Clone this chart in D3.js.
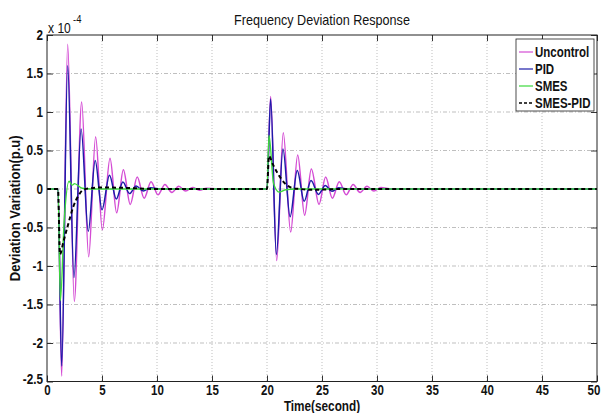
<!DOCTYPE html>
<html>
<head>
<meta charset="utf-8">
<script src="https://cdn.jsdelivr.net/npm/d3@7"></script>
<style>
    html, body { margin: 0; padding: 0; background: #fff; }
    svg { display: block; }
</style>
</head>
<body>
<div id="chart"></div>
<script>
var xTicks = [0, 5, 10, 15, 20, 25, 30, 35, 40, 45, 50];
var yTicks = [-2.5, -2, -1.5, -1, -0.5, 0, 0.5, 1, 1.5, 2];
var seriesNames = ['Uncontrol', 'PID', 'SMES', 'SMES-PID'];

// values in units of 1e-4 p.u., [time, deviation]
var uncontrol = [[0, 0], [1.0, 0], [1.33, -2.43], [1.88, 1.88], [2.48, -1.46], [3.15, 1.13], [3.79, -0.88],
    [4.42, 0.68], [5.03, -0.53], [5.73, 0.40], [6.33, -0.31], [6.94, 0.25], [7.57, -0.2], [8.2, 0.155],
    [8.83, -0.12], [9.46, 0.095], [10.09, -0.075], [10.72, 0.058], [11.35, -0.045], [11.98, 0.035],
    [12.61, -0.027], [13.24, 0.02], [13.87, -0.015], [14.5, 0.01], [15.5, 0], [20.0, 0], [20.33, 1.2],
    [20.88, -0.93], [21.48, 0.73], [22.15, -0.56], [22.79, 0.44], [23.42, -0.34], [24.03, 0.26],
    [24.73, -0.2], [25.33, 0.155], [25.94, -0.12], [26.57, 0.095], [27.2, -0.075], [27.83, 0.058],
    [28.46, -0.045], [29.09, 0.035], [29.72, -0.027], [30.35, 0.02], [31.3, 0], [50, 0]];
var pid = [[0, 0], [1.0, 0], [1.33, -2.3], [1.88, 1.6], [2.45, -1.15], [3.1, 0.78], [3.75, -0.55],
    [4.38, 0.37], [5.0, -0.27], [5.68, 0.18], [6.3, -0.13], [6.9, 0.09], [7.5, -0.06], [8.1, 0.04],
    [8.75, -0.025], [9.4, 0.015], [10.5, 0], [20.0, 0], [20.33, 1.17], [20.85, -0.85], [21.45, 0.52],
    [22.1, -0.36], [22.75, 0.24], [23.38, -0.16], [24.0, 0.11], [24.68, -0.07], [25.3, 0.045],
    [25.9, -0.03], [26.5, 0.015], [27.5, 0], [50, 0]];
var smes = [[0, 0], [1.0, 0], [1.22, -1.45], [1.55, -0.45], [2.0, 0.1], [2.3, 0.05], [2.5, 0.07],
    [3.2, 0.01], [4, 0], [20, 0], [20.18, 0.7], [20.6, 0.07], [21.1, -0.04], [21.7, -0.01], [22.5, 0], [50, 0]];
var smesPid = [[0, 0], [1.0, 0], [1.18, -0.85], [1.5, -0.68], [1.94, -0.45], [2.39, -0.23], [2.88, -0.08],
    [3.3, -0.01], [4, 0.01], [5, 0.02], [7, 0.015], [10, 0], [20, 0], [20.18, 0.43], [20.5, 0.33],
    [20.9, 0.22], [21.4, 0.11], [21.9, 0.04], [22.4, 0.01], [23, 0], [24, -0.01], [27, 0], [50, 0]];

var W = 603, H = 413;
var margin = { top: 35, right: 6, bottom: 31.5, left: 47 };
var pw = W - margin.left - margin.right,
    ph = H - margin.top - margin.bottom;
var FONT = '"Liberation Sans", Arial, Helvetica, sans-serif';

var series = [
    { name: seriesNames[0], data: uncontrol, color: '#d44cd4', width: 1.5, dash: null },
    { name: seriesNames[1], data: pid, color: '#1c1ca8', width: 1.5, dash: null },
    { name: seriesNames[2], data: smes, color: '#3cd83c', width: 1.4, dash: null },
    { name: seriesNames[3], data: smesPid, color: '#000', width: 2, dash: '4,3' }
];

// squeeze text horizontally, the figure uses a narrow face
function narrow(sel, k) {
    sel.each(function() {
        var w = this.getComputedTextLength();
        d3.select(this)
            .attr('textLength', (w * k).toFixed(1))
            .attr('lengthAdjust', 'spacingAndGlyphs');
    });
}

function label(parent, size, bold) {
    return parent.append('text')
        .style('font-family', FONT)
        .style('font-size', size + 'px')
        .style('font-weight', bold ? 'bold' : 'normal')
        .attr('fill', '#111');
}

var svg = d3.select('#chart').append('svg')
    .attr('width', W)
    .attr('height', H);

var x = d3.scaleLinear().domain([0, 50]).range([0, pw]);
var y = d3.scaleLinear().domain([-2.5, 2]).range([ph, 0]);

var g = svg.append('g')
    .attr('transform', 'translate(' + margin.left + ',' + margin.top + ')');

// grid
g.append('g').selectAll('line')
    .data(xTicks.slice(1, -1))
  .enter().append('line')
    .attr('x1', x).attr('x2', x)
    .attr('y1', 0).attr('y2', ph)
    .attr('stroke', '#a4a4a4')
    .attr('stroke-width', 0.7)
    .attr('stroke-dasharray', '1,2');
g.append('g').selectAll('line')
    .data(yTicks.slice(1, -1))
  .enter().append('line')
    .attr('y1', y).attr('y2', y)
    .attr('x1', 0).attr('x2', pw)
    .attr('stroke', '#a4a4a4')
    .attr('stroke-width', 0.7)
    .attr('stroke-dasharray', '4,2,1,2');

// axes, ticks pointing inward
var xAxis = g.append('g')
    .attr('transform', 'translate(0,' + ph + ')')
    .call(d3.axisBottom(x).tickValues(xTicks).tickSizeInner(-6).tickSizeOuter(0).tickPadding(4));
var xTop = g.append('g')
    .call(d3.axisTop(x).tickValues(xTicks).tickSizeInner(-6).tickSizeOuter(0).tickFormat(''));
var yAxis = g.append('g')
    .call(d3.axisLeft(y).tickValues(yTicks).tickSizeInner(-6).tickSizeOuter(0).tickPadding(4)
        .tickFormat(function(d) { return String(d); }));
var yRight = g.append('g')
    .attr('transform', 'translate(' + pw + ',0)')
    .call(d3.axisRight(y).tickValues(yTicks).tickSizeInner(-6).tickSizeOuter(0).tickFormat(''));

[xAxis, xTop, yAxis, yRight].forEach(function(a) {
    a.select('.domain').remove();
    a.selectAll('line').attr('stroke', '#333').attr('stroke-width', 1);
    a.selectAll('text')
        .style('font-family', FONT)
        .style('font-size', '14px')
        .style('font-weight', 'bold')
        .attr('fill', '#111');
});
yAxis.selectAll('.tick')
    .filter(function(d) { return d === -2.5; })
    .select('text').attr('dy', '0.15em');
xAxis.selectAll('.tick')
    .filter(function(d) { return d === 50; })
    .select('text').attr('dx', -3.5);
narrow(xAxis.selectAll('text'), 0.82);
narrow(yAxis.selectAll('text'), 0.84);

// lines
var line = d3.line()
    .x(function(d) { return x(d[0]); })
    .y(function(d) { return y(d[1]); })
    .curve(d3.curveMonotoneX);

g.append('g').selectAll('path')
    .data(series)
  .enter().append('path')
    .attr('d', function(d) { return line(d.data); })
    .attr('fill', 'none')
    .attr('stroke', function(d) { return d.color; })
    .attr('stroke-width', function(d) { return d.width; })
    .attr('stroke-dasharray', function(d) { return d.dash; })
    .attr('stroke-linejoin', 'round');

// frame
g.append('rect')
    .attr('width', pw).attr('height', ph)
    .attr('fill', 'none')
    .attr('stroke', '#222')
    .attr('stroke-width', 1);

// exponent marker
var expo = label(svg, 14, false)
    .attr('x', margin.left + 1)
    .attr('y', margin.top - 2)
    .text('x 10');
narrow(expo, 0.86);
var expoSup = label(svg, 11, false)
    .attr('x', margin.left + 26)
    .attr('y', margin.top - 12)
    .text('-4');
narrow(expoSup, 0.86);

// title and axis labels
var title = label(svg, 15, false)
    .attr('x', margin.left + pw / 2)
    .attr('y', 25)
    .attr('text-anchor', 'middle')
    .text('Frequency Deviation Response');
narrow(title, 0.84);
var xLabel = label(svg, 14, true)
    .attr('x', margin.left + pw / 2)
    .attr('y', 411)
    .attr('text-anchor', 'middle')
    .text('Time(second)');
narrow(xLabel, 0.84);
var yLabel = label(svg, 15, true)
    .attr('transform', 'translate(20,' + (margin.top + ph / 2) + ') rotate(-90)')
    .attr('text-anchor', 'middle')
    .text('Deviation Variation(p.u)');
narrow(yLabel, 0.87);

// legend
var lg = svg.append('g').attr('transform', 'translate(516,39)');
lg.append('rect')
    .attr('width', 78).attr('height', 72)
    .attr('fill', '#fff')
    .attr('stroke', '#222')
    .attr('stroke-width', 0.8);
var row = lg.selectAll('g.row')
    .data(series)
  .enter().append('g')
    .attr('class', 'row')
    .attr('transform', function(d, i) { return 'translate(0,' + (13 + i * 17) + ')'; });
row.append('line')
    .attr('x1', 3).attr('x2', 17)
    .attr('stroke', function(d) { return d.color; })
    .attr('stroke-width', function(d) { return d.dash ? 1.5 : 1.2; })
    .attr('stroke-dasharray', function(d) { return d.dash ? '3,2' : null; });
var rowText = label(row, 14, true)
    .attr('x', 19)
    .attr('dy', '0.35em')
    .text(function(d) { return d.name; });
narrow(rowText, 0.82);
</script>
</body>
</html>
